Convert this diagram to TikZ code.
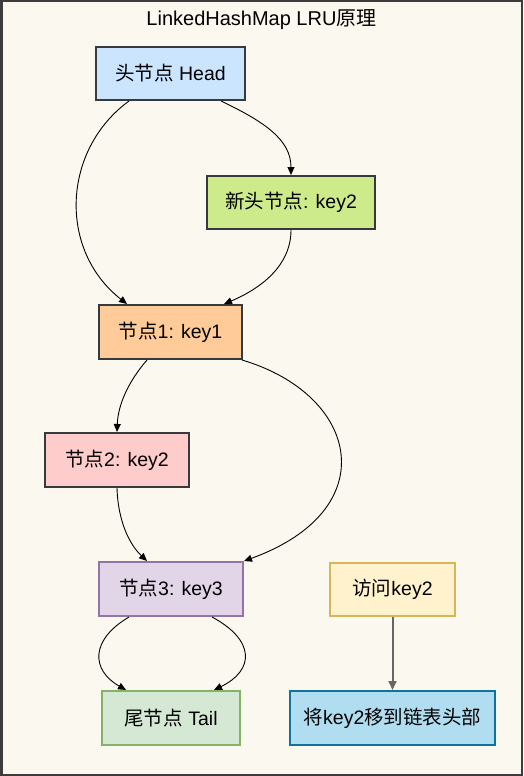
\documentclass[tikz,border=0pt]{standalone}
\usepackage{fontspec}
\setmainfont{Liberation Sans}
\newfontfamily\cjk{Noto Sans CJK SC}
\usetikzlibrary{arrows.meta,calc}
\definecolor{bgc}{HTML}{FAF8EF}
\definecolor{framec}{HTML}{3C3C3C}
\definecolor{darkb}{HTML}{36393D}
\definecolor{headf}{HTML}{CCE5FF}
\definecolor{nhf}{HTML}{CDEB8B}
\definecolor{n1f}{HTML}{FFCC99}
\definecolor{n2f}{HTML}{FFCCCC}
\definecolor{n3f}{HTML}{E1D5E7}
\definecolor{n3d}{HTML}{9673A6}
\definecolor{tailf}{HTML}{D5E8D4}
\definecolor{taild}{HTML}{82B366}
\definecolor{accf}{HTML}{FFF2CC}
\definecolor{accd}{HTML}{D6B656}
\definecolor{movf}{HTML}{B1DDF0}
\definecolor{movd}{HTML}{10739E}
\definecolor{greyl}{HTML}{666666}
\tikzset{
  box/.style={rectangle, line width=2pt, inner sep=0pt, font=\fontsize{19.5}{22}\selectfont, text=black},
  link/.style={line width=0.9pt, black, -{Triangle[length=8pt,width=7pt]}},
}
\begin{document}
\begin{tikzpicture}[x=1pt,y=-1pt]
\useasboundingbox (0,0) rectangle (523,776);
\fill[framec] (0,0) rectangle (523,776);
\fill[bgc] (2.5,2.5) rectangle (520.5,773.5);

\node[font=\fontsize{20}{24}\selectfont] (title) at (261.5,20) {LinkedHashMap LRU{\cjk 原理}};

\node[box, fill=headf, draw=darkb, minimum width=149pt, minimum height=53pt] (head) at (170.5,73.5) {{\cjk 头节点} Head};
\node[box, fill=nhf, draw=darkb, minimum width=168pt, minimum height=53pt] (nh) at (291,202.5) {{\cjk 新头节点}: key2};
\node[box, fill=n1f, draw=darkb, minimum width=143pt, minimum height=54pt] (n1) at (170.5,332) {{\cjk 节点}1: key1};
\node[box, fill=n2f, draw=darkb, minimum width=144pt, minimum height=54pt] (n2) at (117,460) {{\cjk 节点}2: key2};
\node[box, fill=n3f, draw=n3d, minimum width=144pt, minimum height=54pt] (n3) at (171,589) {{\cjk 节点}3: key3};
\node[box, fill=tailf, draw=taild, minimum width=138pt, minimum height=54pt] (tail) at (171,718) {{\cjk 尾节点} Tail};
\node[box, fill=accf, draw=accd, minimum width=125pt, minimum height=53pt] (acc) at (392.5,589.5) {{\cjk 访问}key2};
\node[box, fill=movf, draw=movd, minimum width=205pt, minimum height=54pt] (mov) at (392.5,718) {{\cjk 将}key2{\cjk 移到链表头部}};

% Head -> Node1 (left arc)
\draw[link] ($(head.south west)+(34,0)$) .. controls (62,150) and (58,250) .. ($(n1.north west)+(29,0)$);
% Head -> New head
\draw[link] ($(head.south west)+(126,0)$) .. controls (265,122) and (291,140) .. (nh.north);
% New head -> Node1
\draw[link] (nh.south) .. controls (291,265) and (262,288) .. ($(n1.north west)+(126,0)$);
% Node1 -> Node2
\draw[link] ($(n1.south west)+(49,0)$) .. controls (128,382) and (118,405) .. (n2.north);
% Node1 -> Node3 (right arc)
\draw[link] ($(n1.south east)+(-1,0)$) .. controls (360,395) and (385,510) .. (n3.north east);
% Node2 -> Node3
\draw[link] (n2.south) .. controls (118,522) and (130,545) .. ($(n3.north west)+(49,0)$);
% Node3 -> Tail (two arcs)
\draw[link] ($(n3.south west)+(31,0)$) .. controls (90,640) and (91,670) .. ($(tail.north west)+(25,0)$);
\draw[link] ($(n3.south west)+(114,0)$) .. controls (255,640) and (255,670) .. ($(tail.north west)+(113,0)$);
% Access -> Move
\draw[line width=2pt, greyl, -{Triangle[length=9pt,width=8pt]}] (acc.south) -- (mov.north);
\end{tikzpicture}
\end{document}
